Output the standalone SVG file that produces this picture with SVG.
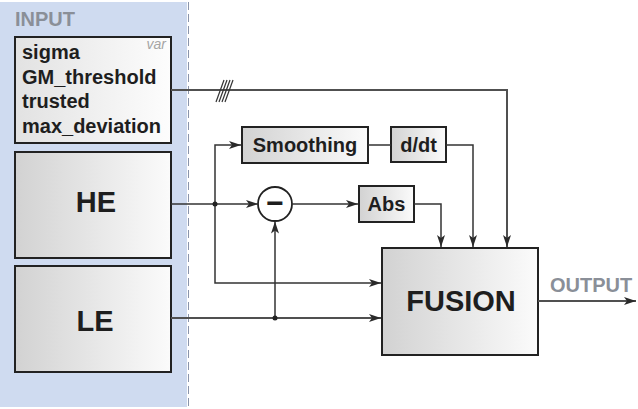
<svg xmlns="http://www.w3.org/2000/svg" width="638" height="409" viewBox="0 0 638 409">
  <defs>
    <linearGradient id="boxGrad" x1="0" y1="0" x2="1" y2="0">
      <stop offset="0" stop-color="#d2d2d2"/>
      <stop offset="1" stop-color="#fbfbfb"/>
    </linearGradient>
    <linearGradient id="varGrad" x1="0" y1="0" x2="1" y2="0">
      <stop offset="0" stop-color="#e2e2e2"/>
      <stop offset="1" stop-color="#fdfdfd"/>
    </linearGradient>
    <marker id="arr" markerUnits="userSpaceOnUse" markerWidth="14" markerHeight="10" refX="12" refY="4" orient="auto">
      <path d="M0,0 L12,4 L0,8 L3,4 z" fill="#2a2a2a"/>
    </marker>
    <style>
      .box { stroke: #222; stroke-width: 2; fill: url(#boxGrad); }
      .lbl { font-family: "Liberation Sans", Arial, sans-serif; font-weight: bold; fill: #1e1e1e; }
      .grey { font-family: "Liberation Sans", Arial, sans-serif; font-weight: bold; fill: #8a8f98; }
      .wire { fill: none; stroke: #333; stroke-width: 1.5; }
      .wire2 { fill: none; stroke: #505050; stroke-width: 2; }
    </style>
  </defs>

  <rect width="638" height="409" fill="#ffffff"/>

  <g id="input-panel">
    <rect x="0" y="2" width="187" height="405" fill="#cfdbf0"/>
    <line x1="188.5" y1="2" x2="188.5" y2="407" stroke="#8b95ab" stroke-width="1" stroke-dasharray="8,4"/>
    <text class="grey" x="15" y="26" font-size="20">INPUT</text>
  </g>

  <g id="var">
    <rect x="15" y="37" width="156" height="106" stroke="#222" stroke-width="2" fill="url(#varGrad)"/>
    <text x="166" y="49" font-family="Liberation Sans, Arial, sans-serif" font-style="italic" font-size="14" fill="#a5a5a5" text-anchor="end">var</text>
    <text class="lbl" x="22" y="59" font-size="20">sigma</text>
    <text class="lbl" x="22" y="83.5" font-size="20">GM_threshold</text>
    <text class="lbl" x="22" y="108" font-size="20">trusted</text>
    <text class="lbl" x="22" y="132.5" font-size="20">max_deviation</text>
  </g>

  <g id="HE">
    <rect class="box" x="15" y="152" width="156" height="106"/>
    <text class="lbl" x="96" y="212" font-size="29" text-anchor="middle">HE</text>
  </g>

  <g id="LE">
    <rect class="box" x="15" y="266" width="156" height="106"/>
    <text class="lbl" x="95" y="331" font-size="29" text-anchor="middle">LE</text>
  </g>

  <g id="smoothing">
    <rect class="box" x="242" y="127" width="126" height="36"/>
    <text class="lbl" x="305" y="152" font-size="20" text-anchor="middle">Smoothing</text>
  </g>

  <g id="ddt">
    <rect class="box" x="391" y="127" width="55" height="35"/>
    <text class="lbl" x="418.5" y="152" font-size="20" text-anchor="middle">d/dt</text>
  </g>

  <g id="abs">
    <rect class="box" x="359" y="186" width="55" height="36"/>
    <text class="lbl" x="386.5" y="211" font-size="20" text-anchor="middle">Abs</text>
  </g>

  <g id="minus">
    <circle cx="275" cy="204" r="17" fill="#ffffff" stroke="#222" stroke-width="1.8"/>
    <text class="lbl" x="275" y="213" font-size="30" text-anchor="middle">−</text>
  </g>

  <g id="fusion">
    <rect class="box" x="382" y="248" width="156" height="107"/>
    <text class="lbl" x="461" y="311" font-size="29" text-anchor="middle">FUSION</text>
  </g>

  <g id="output">
    <text class="grey" x="550" y="292" font-size="20">OUTPUT</text>
  </g>

  <g id="connectors">
    <!-- var to fusion -->
    <path class="wire2" d="M171,90 H507 V247" marker-end="url(#arr)"/>
    <g stroke="#333" stroke-width="1.2">
      <line x1="216" y1="102" x2="224" y2="80"/>
      <line x1="219" y1="102" x2="227" y2="80"/>
      <line x1="222" y1="102" x2="230" y2="80"/>
      <line x1="225" y1="102" x2="233" y2="80"/>
    </g>
    <!-- HE to minus -->
    <path class="wire" d="M171,204 H258" marker-end="url(#arr)"/>
    <!-- branch to smoothing -->
    <path class="wire" d="M215,204 V145 H241" marker-end="url(#arr)"/>
    <!-- branch to fusion -->
    <path class="wire" d="M215,204 V283 H381" marker-end="url(#arr)"/>
    <circle cx="215" cy="204" r="2.5" fill="#222"/>
    <!-- LE to fusion -->
    <path class="wire2" d="M171,318 H381" marker-end="url(#arr)"/>
    <!-- LE branch to minus -->
    <path class="wire" d="M275,318 V221.5" marker-end="url(#arr)"/>
    <circle cx="275" cy="318" r="2.5" fill="#222"/>
    <!-- minus to abs -->
    <path class="wire" d="M292,204 H358" marker-end="url(#arr)"/>
    <!-- smoothing to d/dt -->
    <path class="wire" d="M368,145 H391"/>
    <!-- d/dt to fusion -->
    <path class="wire" d="M446,145 H473 V247" marker-end="url(#arr)"/>
    <!-- abs to fusion -->
    <path class="wire" d="M414,204 H441 V247" marker-end="url(#arr)"/>
    <!-- output -->
    <path class="wire2" d="M538,301 H636" marker-end="url(#arr)"/>
  </g>
</svg>
